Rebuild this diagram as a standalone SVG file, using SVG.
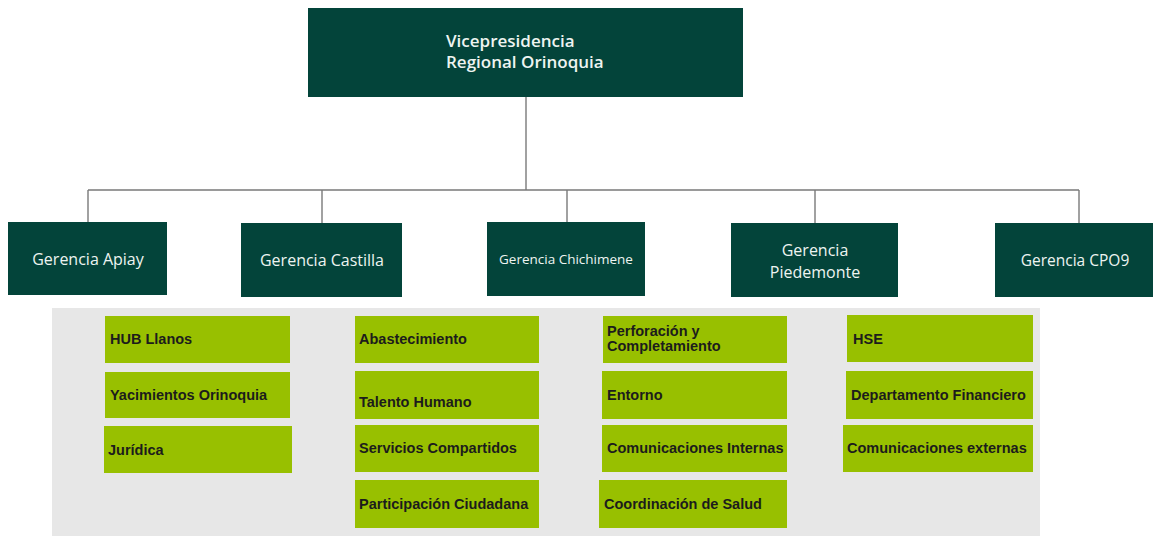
<svg xmlns="http://www.w3.org/2000/svg" width="1156" height="536" viewBox="0 0 1156 536">
<style>
.dk{fill:#03443a}
.lm{fill:#98c000}
.ht{font-family:"Open Sans","DejaVu Sans",sans-serif;fill:#eef4f1}
.gt{font-family:"Liberation Sans",Arial,sans-serif;font-weight:bold;font-size:14.5px;fill:#1c1c1c}
.cn{stroke:#7a7a7a;stroke-width:1.4;fill:none}
</style>
<rect width="1156" height="536" fill="#ffffff"/>
<rect x="52" y="308" width="988" height="228" fill="#e7e7e7"/>
<g id="connectors">
<path class="cn" d="M526 97V190M88 190H1079M88 190V222M322 190V223M567 190V222M815 190V223M1079 190V223"/>
</g>
<g id="vp">
<rect class="dk" x="308" y="8" width="435" height="89"/>
<text class="ht" font-weight="600" font-size="17" x="446" y="47">Vicepresidencia</text>
<text class="ht" font-weight="600" font-size="17" x="446" y="68">Regional Orinoquia</text>
</g>
<g id="apiay"><rect class="dk" x="8" y="222" width="159" height="73"/><text class="ht" font-size="16" x="88" y="265" text-anchor="middle">Gerencia Apiay</text></g>
<g id="castilla"><rect class="dk" x="241" y="223" width="161" height="74"/><text class="ht" font-size="16" x="322" y="266" text-anchor="middle">Gerencia Castilla</text></g>
<g id="chichimene"><rect class="dk" x="487" y="222" width="158" height="74"/><text class="ht" font-size="13.5" x="566" y="264" text-anchor="middle">Gerencia Chichimene</text></g>
<g id="piedemonte"><rect class="dk" x="731" y="223" width="167" height="74"/><text class="ht" font-size="16" x="815" y="256" text-anchor="middle">Gerencia</text><text class="ht" font-size="16" x="815" y="278" text-anchor="middle">Piedemonte</text></g>
<g id="cpo9"><rect class="dk" x="995" y="223" width="158" height="74"/><text class="ht" font-size="15.5" x="1075" y="266" text-anchor="middle">Gerencia CPO9</text></g>
<g id="hub"><rect class="lm" x="105" y="316" width="185" height="47"/><text class="gt" x="110" y="344">HUB Llanos</text></g>
<g id="yacimientos"><rect class="lm" x="105" y="372" width="185" height="46"/><text class="gt" x="110" y="400">Yacimientos Orinoquia</text></g>
<g id="juridica"><rect class="lm" x="104" y="426" width="188" height="47"/><text class="gt" x="108" y="455">Jurídica</text></g>
<g id="abastecimiento"><rect class="lm" x="355" y="316" width="184" height="47"/><text class="gt" x="359" y="344">Abastecimiento</text></g>
<g id="talento"><rect class="lm" x="355" y="371" width="184" height="48"/><text class="gt" x="359" y="407">Talento Humano</text></g>
<g id="servicios"><rect class="lm" x="355" y="425" width="184" height="47"/><text class="gt" x="359" y="453">Servicios Compartidos</text></g>
<g id="participacion"><rect class="lm" x="355" y="480" width="184" height="48"/><text class="gt" x="359" y="509">Participación Ciudadana</text></g>
<g id="perforacion"><rect class="lm" x="603" y="316" width="184" height="47"/><text class="gt" font-size="12.5" x="607" y="336">Perforación  y</text><text class="gt" font-size="12.5" x="607" y="351">Completamiento</text></g>
<g id="entorno"><rect class="lm" x="602" y="371" width="185" height="48"/><text class="gt" x="607" y="400">Entorno</text></g>
<g id="com-internas"><rect class="lm" x="602" y="425" width="185" height="47"/><text class="gt" x="607" y="453">Comunicaciones Internas</text></g>
<g id="salud"><rect class="lm" x="599" y="480" width="188" height="48"/><text class="gt" x="604" y="509">Coordinación de Salud</text></g>
<g id="hse"><rect class="lm" x="847" y="315" width="186" height="47"/><text class="gt" x="853" y="344">HSE</text></g>
<g id="financiero"><rect class="lm" x="846" y="371" width="187" height="48"/><text class="gt" x="851" y="400">Departamento Financiero</text></g>
<g id="com-externas"><rect class="lm" x="843" y="425" width="190" height="47"/><text class="gt" x="847" y="453">Comunicaciones externas</text></g>
</svg>
